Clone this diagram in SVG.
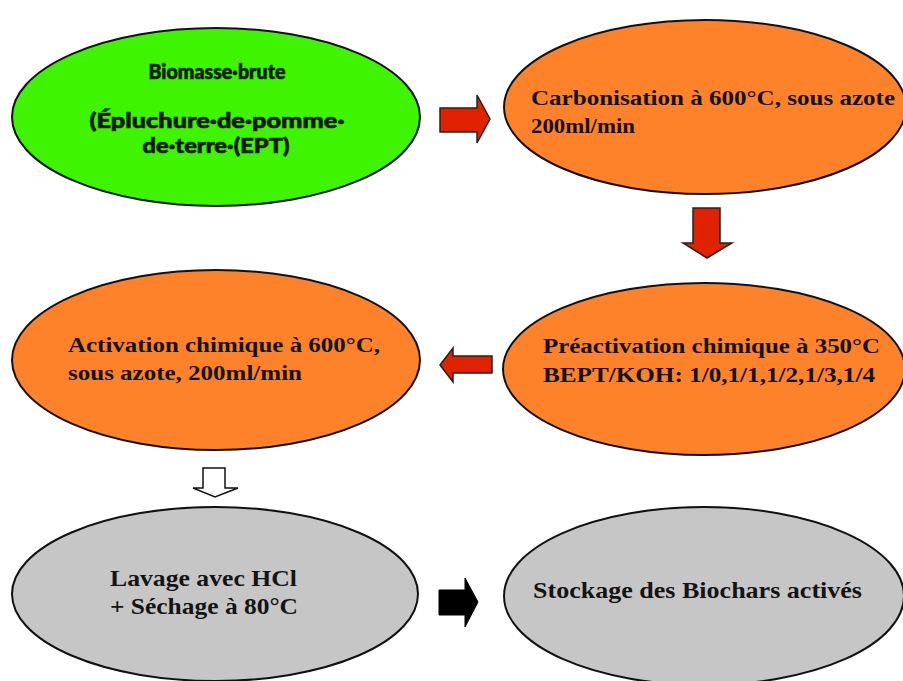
<svg xmlns="http://www.w3.org/2000/svg" width="903" height="681" viewBox="0 0 903 681">
<style>
.node ellipse{stroke:#111;stroke-width:2}
.green{fill:#3ff400}
.orange{fill:#fe8229}
.gray{fill:#c6c6c6}
.sans{font-family:Lato,"Open Sans","Liberation Sans",sans-serif;font-weight:900;font-size:21px;fill:#0c1400;stroke:#1c3000;stroke-width:0.7}
.serif{font-family:"Liberation Serif","Times New Roman",serif;font-weight:bold;font-size:22px;fill:#141414}
.big{font-size:24px}
.red{fill:#e02200;stroke:#222;stroke-width:1.5;stroke-linejoin:miter}
.hollow{fill:#fff;stroke:#111;stroke-width:1.5}
.black{fill:#000;stroke:#000;stroke-width:1}
</style>
<rect width="903" height="681" fill="#fff"/>
<g id="n-biomasse" class="node">
<ellipse class="green" cx="216" cy="117" rx="204" ry="89"/>
<text class="sans" x="217" y="79" text-anchor="middle" textLength="137" lengthAdjust="spacingAndGlyphs">Biomasse·brute</text>
<text class="sans" x="217" y="128" text-anchor="middle" textLength="255" lengthAdjust="spacingAndGlyphs">(Épluchure·de·pomme·</text>
<text class="sans" x="216" y="153" text-anchor="middle" textLength="147" lengthAdjust="spacingAndGlyphs">de·terre·(EPT)</text>
</g>
<g id="n-carbonisation" class="node">
<ellipse class="orange" cx="705" cy="107" rx="201" ry="87"/>
<text class="serif" x="531" y="105" textLength="364" lengthAdjust="spacingAndGlyphs">Carbonisation à 600°C, sous azote</text>
<text class="serif" x="531" y="133" textLength="104" lengthAdjust="spacingAndGlyphs">200ml/min</text>
</g>
<g id="n-preactivation" class="node">
<ellipse class="orange" cx="704" cy="369" rx="201" ry="86"/>
<text class="serif" x="543" y="353" textLength="337" lengthAdjust="spacingAndGlyphs">Préactivation chimique à 350°C</text>
<text class="serif" x="543" y="382" textLength="332" lengthAdjust="spacingAndGlyphs">BEPT/KOH: 1/0,1/1,1/2,1/3,1/4</text>
</g>
<g id="n-activation" class="node">
<ellipse class="orange" cx="216" cy="360" rx="204" ry="90"/>
<text class="serif" x="68" y="352" textLength="312" lengthAdjust="spacingAndGlyphs">Activation chimique à 600°C,</text>
<text class="serif" x="68" y="380" textLength="234" lengthAdjust="spacingAndGlyphs">sous azote, 200ml/min</text>
</g>
<g id="n-lavage" class="node">
<ellipse class="gray" cx="215" cy="594" rx="203" ry="87"/>
<text class="serif big" x="110" y="586" textLength="187" lengthAdjust="spacingAndGlyphs">Lavage avec HCl</text>
<text class="serif big" x="110" y="614" textLength="188" lengthAdjust="spacingAndGlyphs">+ Séchage à 80°C</text>
</g>
<g id="n-stockage" class="node">
<ellipse class="gray" cx="704" cy="596" rx="200" ry="89"/>
<text class="serif" x="533" y="598" style="font-size:24px" textLength="329" lengthAdjust="spacingAndGlyphs">Stockage des Biochars activés</text>
</g>
<g id="connectors">
<path class="red" d="M440,108 H477 V95 L490,119 L477,143 V132 H440 Z"/>
<path class="red" d="M693,208 H720 V243 H732 L707,258 L683,243 H693 Z"/>
<path class="red" d="M492,356 V373 H453 V382 L440,365 L453,348 V356 Z"/>
<path class="hollow" d="M203,468 H225 V488 H238 L215,497 L193,488 H203 Z"/>
<path class="black" d="M439,590 H465 V578 L478,602 L465,627 V615 H439 Z"/>
</g>
</svg>
